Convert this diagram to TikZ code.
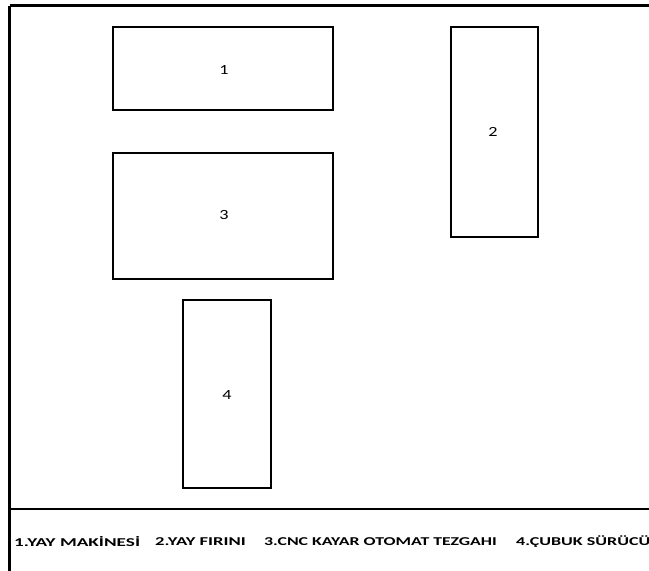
\documentclass[tikz,border=0pt]{standalone}
\usepackage{fontspec}
\setmainfont{Carlito}
\newcommand{\legtext}[2][1.5]{\scalebox{#1}[1]{\bfseries #2}}
\newcommand{\numtext}[1]{\scalebox{1.3}[1]{#1}}
\begin{document}
\begin{tikzpicture}[x=1pt,y=-1pt,
  machine/.style={draw=black,line width=2pt,fill=white},
  num/.style={font=\fontsize{14}{15}\selectfont,inner sep=0pt},
  legend/.style={font=\fontsize{12}{14}\selectfont,anchor=west,inner sep=0pt}]
\useasboundingbox (0,0) rectangle (649,571);
\clip (0,0) rectangle (649,571);
\draw[line width=2.6pt] (9.5,5.5) -- (670,5.5);
\draw[line width=3pt] (9.5,5.5) -- (9.5,590);
\draw[line width=2pt] (9.5,509) coordinate (dl) -- (670,509) coordinate (dr);
\draw[machine] (113,27) rectangle (333,110);
\node[num] (n1) at (224,70) {\numtext{1}};
\draw[machine] (451,27) rectangle (538,237);
\node[num] (n2) at (493,132) {\numtext{2}};
\draw[machine] (113,153) rectangle (333,279);
\node[num] (n3) at (224,215) {\numtext{3}};
\draw[machine] (183,300) rectangle (271,488);
\node[num] (n4) at (227,395) {\numtext{4}};
\node[legend] (l1) at (14,542) {\legtext[1.6]{1.YAY MAKİNESİ}};
\node[legend] (l2) at (155,542) {\legtext[1.55]{2.YAY FIRINI}};
\node[legend] (l3) at (264,542) {\legtext[1.48]{3.CNC KAYAR OTOMAT TEZGAHI}};
\node[legend] (l4) at (516,542) {\legtext[1.5]{4.ÇUBUK SÜRÜCÜ}};
\end{tikzpicture}
\end{document}
